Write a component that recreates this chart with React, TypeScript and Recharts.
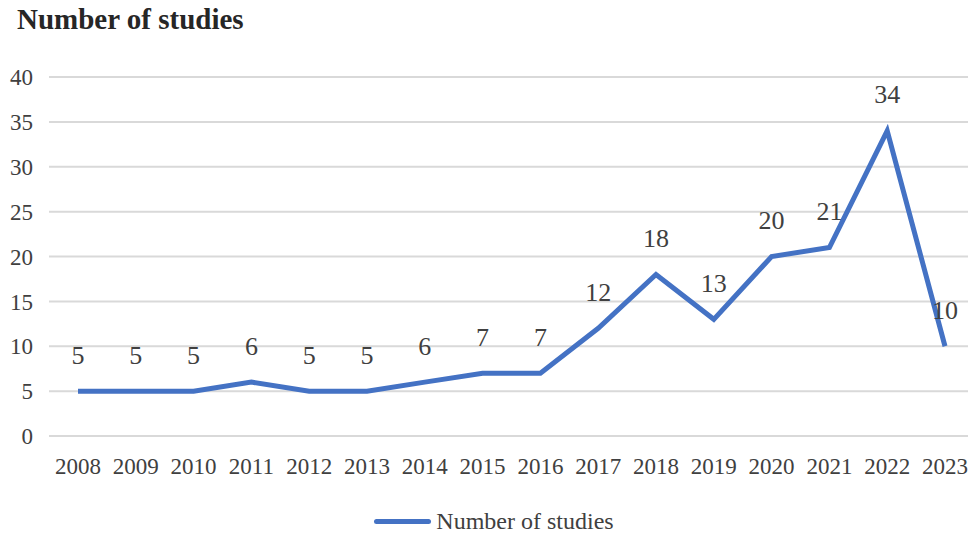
import { LineChart, Line, XAxis, YAxis, CartesianGrid, Legend, LabelList } from 'recharts'

const years = ['2008', '2009', '2010', '2011', '2012', '2013', '2014', '2015', '2016', '2017', '2018', '2019', '2020', '2021', '2022', '2023']
const studies = [5, 5, 5, 6, 5, 5, 6, 7, 7, 12, 18, 13, 20, 21, 34, 10]
const yTicks = [0, 5, 10, 15, 20, 25, 30, 35, 40]

const data = years.map((year, i) => ({ year, studies: studies[i] }))

const serif = '"Liberation Serif", "Times New Roman", serif'
const blue = '#4472C4'
const textColor = '#404040'

// value labels sit centred a fixed distance above each point
const renderLabel = (props: any) => {
  const { x, y, value } = props
  return (
    <text
      x={x}
      y={y - 36}
      textAnchor="middle"
      dominantBaseline="central"
      fontFamily={serif}
      fontSize={26}
      fill={textColor}
    >
      {value}
    </text>
  )
}

const renderLegend = () => (
  <div style={{ display: 'flex', justifyContent: 'center', alignItems: 'center', fontFamily: serif, fontSize: 24, color: textColor, paddingLeft: 14 }}>
    <span style={{ display: 'inline-block', width: 57, height: 5, background: blue, borderRadius: 3, marginRight: 5 }} />
    <span>Number of studies</span>
  </div>
)

export default function App() {
  return (
    <div style={{ position: 'absolute', left: 0, top: 0, width: 968, height: 533, overflow: 'hidden', background: '#fff' }}>
      <div style={{ position: 'absolute', left: 17, top: 3, fontFamily: serif, fontWeight: 'bold', fontSize: 29, color: '#262626' }}>
        Number of studies
      </div>
      <LineChart width={974} height={533} data={data} margin={{ top: 77, right: 0, bottom: 0, left: 0 }}>
        <CartesianGrid vertical={false} stroke="#d9d9d9" strokeWidth={2} />
        <XAxis
          dataKey="year"
          axisLine={false}
          tickLine={false}
          tickSize={0}
          tickMargin={22}
          height={72}
          interval={0}
          padding={{ left: 29, right: 29 }}
          tick={{ fontFamily: serif, fontSize: 23, fill: textColor }}
        />
        <YAxis
          domain={[0, 40]}
          ticks={yTicks}
          axisLine={false}
          tickLine={false}
          tickSize={0}
          tickMargin={16}
          width={49}
          tick={{ fontFamily: serif, fontSize: 23, fill: textColor }}
        />
        <Legend verticalAlign="bottom" height={25} content={renderLegend} />
        <Line
          type="linear"
          dataKey="studies"
          name="Number of studies"
          stroke={blue}
          strokeWidth={5}
          dot={false}
          isAnimationActive={false}
        >
          <LabelList dataKey="studies" content={renderLabel} />
        </Line>
      </LineChart>
    </div>
  )
}
